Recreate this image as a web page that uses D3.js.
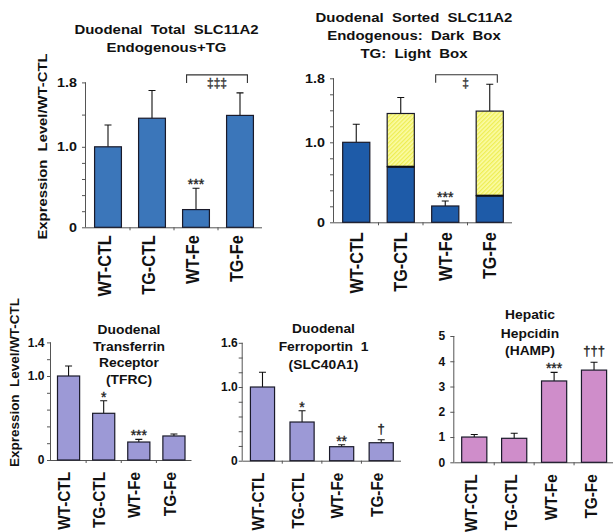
<!DOCTYPE html>
<html><head><meta charset="utf-8">
<script src="https://cdn.jsdelivr.net/npm/d3@7/dist/d3.min.js"></script>
<style>
body{margin:0;background:#fff;}
svg{display:block;}
text{font-family:"Liberation Sans", Arial, Helvetica, sans-serif; white-space:pre;}
text.sym{font-family:"Liberation Sans", "DejaVu Sans", sans-serif;}
</style>
</head><body>
<svg id="chart" width="613" height="532"></svg>
<script>
// ---------------- DATA ----------------
const categories = ["WT-CTL", "TG-CTL", "WT-Fe", "TG-Fe"];

// Duodenal total SLC11A2 (endogenous + TG)
const totalSlc11a2Mean = [1.0, 1.355, 0.22, 1.39];
const totalSlc11a2Err  = [0.27, 0.345, 0.265, 0.28];
const totalSlc11a2Marks = ["", "", "***", ""];

// Duodenal sorted SLC11A2: endogenous (dark) + TG (light)
const sortedEndoMean = [1.0, 0.695, 0.204, 0.333];
const sortedTgMean   = [0, 0.665, 0, 1.057];
const sortedErr      = [0.225, 0.2, 0.062, 0.335];
const sortedMarks    = ["", "", "***", ""];

// Duodenal transferrin receptor (TFRC)
const tfrcMean  = [1.0, 0.556, 0.214, 0.286];
const tfrcErr   = [0.119, 0.15, 0.032, 0.024];
const tfrcMarks = ["", "*", "***", ""];

// Duodenal ferroportin 1 (SLC40A1)
const fpnMean  = [1.0, 0.525, 0.19, 0.244];
const fpnErr   = [0.2, 0.153, 0.027, 0.041];
const fpnMarks = ["", "*", "**", "\u2020"];

// Hepatic hepcidin (HAMP)
const hampMean  = [1.0, 0.95, 3.22, 3.65];
const hampErr   = [0.1, 0.2, 0.34, 0.31];
const hampMarks = ["", "", "***", "\u2020\u2020\u2020"];

// axis ticks
const ticksTotal   = [0, 0.2, 0.4, 0.6, 0.8, 1.0, 1.4, 1.8];
const labelsTotal  = [0, 1.0, 1.8];
const ticksSorted  = [0, 0.2, 0.4, 0.6, 0.8, 1.0, 1.2, 1.4, 1.6, 1.8];
const labelsSorted = [0, 1.0, 1.8];
const ticksTfrc    = [0, 0.2, 0.4, 0.6, 0.8, 1.0, 1.2, 1.4];
const labelsTfrc   = [0, 1.0, 1.4];
const ticksFpn     = [0, 0.2, 0.4, 0.6, 0.8, 1.0, 1.2, 1.4, 1.6];
const labelsFpn    = [0, 1.0, 1.6];
const ticksHamp    = [0, 1, 2, 3, 4, 5];
const labelsHamp   = [0, 1, 2, 3, 4, 5];

// ---------------- DRAW ----------------
const svg = d3.select("#chart");
const defs = svg.append("defs");
const pat = defs.append("pattern").attr("id", "hatch")
  .attr("patternUnits", "userSpaceOnUse").attr("width", 3).attr("height", 3)
  .attr("patternTransform", "rotate(45)");
pat.append("rect").attr("width", 3).attr("height", 3).attr("fill", "#fbfba6");
pat.append("rect").attr("width", 1.3).attr("height", 3).attr("fill", "#eeee55");

function stretch(sel, f) {
  sel.each(function () {
    const L = this.getComputedTextLength();
    this.setAttribute("textLength", L * f);
    this.setAttribute("lengthAdjust", "spacingAndGlyphs");
  });
}
function fmt(v) { return v === 0 ? "0" : (Number.isInteger(v) && v !== 1 ? String(v) : v.toFixed(1)); }

function panel(cfg) {
  const g = svg.append("g");
  const x = d3.scaleBand().domain(categories).range(cfg.xRange).paddingInner(cfg.pad).paddingOuter(cfg.pad / 2);
  const y = d3.scaleLinear().domain([0, cfg.yMax]).range(cfg.yRange);
  const y0 = y(0);
  const bw = x.bandwidth();

  // y axis
  const yAxis = d3.axisLeft(y).tickValues(cfg.ticks).tickSize(4).tickFormat("");
  const ya = g.append("g").attr("transform", `translate(${cfg.xRange[0]},0)`).call(yAxis);
  ya.select(".domain").attr("stroke", "#555").attr("d", `M-0.5,${y0}V${y(cfg.yMax)}`);
  ya.selectAll(".tick line").attr("stroke", "#555");
  // y labels
  g.selectAll(".ylab").data(cfg.labels).join("text")
    .attr("x", cfg.xRange[0] - cfg.labGap).attr("y", d => y(d)).attr("dy", "0.36em")
    .attr("text-anchor", "end").attr("font-weight", "bold").attr("font-size", cfg.tickFont)
    .attr("fill", "#111").text(d => cfg.labelFmt ? cfg.labelFmt(d) : fmt(d))
    .call(stretch, cfg.tickStretch);

  // x axis line
  g.append("line").attr("x1", cfg.xRange[0]).attr("x2", cfg.xRange[1])
    .attr("y1", y0 + 0.5).attr("y2", y0 + 0.5).attr("stroke", "#555");
  g.selectAll(".xt").data(categories.slice(1)).join("line")
    .attr("x1", d => x(d) - x.step() * cfg.pad / 2).attr("x2", d => x(d) - x.step() * cfg.pad / 2)
    .attr("y1", y0).attr("y2", y0 + 3).attr("stroke", "#555");

  // bars
  const bars = categories.map((c, i) => ({ c, i, v: cfg.mean[i], top: cfg.mean[i] + (cfg.stack ? cfg.stack[i] : 0), e: cfg.err[i] }));
  // error bars
  g.selectAll(".err").data(bars).join("path")
    .attr("d", d => {
      const cx = x(d.c) + bw / 2;
      return `M${cx},${y(d.top)}V${y(d.top + d.e)}M${cx - 3.5},${y(d.top + d.e)}H${cx + 3.5}`;
    })
    .attr("stroke", "#111").attr("stroke-width", 1.1).attr("fill", "none");
  g.selectAll(".bar").data(bars).join("rect")
    .attr("x", d => x(d.c)).attr("width", bw)
    .attr("y", d => y(d.v)).attr("height", d => y0 - y(d.v))
    .attr("fill", cfg.fill).attr("stroke", "#1a1a2a").attr("stroke-width", 1.2);
  if (cfg.stack) {
    g.selectAll(".stk").data(bars.filter(d => cfg.stack[d.i] > 0)).join("rect")
      .attr("x", d => x(d.c)).attr("width", bw)
      .attr("y", d => y(d.top)).attr("height", d => y(d.v) - y(d.top))
      .attr("fill", "url(#hatch)").attr("stroke", "#1a1a2a").attr("stroke-width", 1.2);
    g.selectAll(".sep").data(bars.filter(d => cfg.stack[d.i] > 0)).join("line")
      .attr("x1", d => x(d.c)).attr("x2", d => x(d.c) + bw)
      .attr("y1", d => y(d.v)).attr("y2", d => y(d.v)).attr("stroke", "#111").attr("stroke-width", 2);
  }
  // significance marks
  const isDag = s => s.includes("\u2020");
  g.selectAll(".mk").data(bars.filter(d => cfg.marks[d.i])).join("text")
    .attr("class", d => isDag(cfg.marks[d.i]) ? "sym" : null)
    .attr("x", d => x(d.c) + bw / 2).attr("y", d => y(d.top + d.e) - (isDag(cfg.marks[d.i]) ? 7 : -1))
    .attr("text-anchor", "middle").attr("font-size", d => isDag(cfg.marks[d.i]) ? 13 : 14)
    .attr("fill", "#222").attr("stroke", "#222").attr("stroke-width", 0.35)
    .text(d => cfg.marks[d.i]);

  // bracket
  if (cfg.bracket) {
    const b = cfg.bracket;
    const x1 = x(categories[b.from]) + 4, x2 = x(categories[b.to]) + bw - 6;
    const yt = y(cfg.yMax) - b.up;
    g.append("path").attr("d", `M${x1},${yt + 8}V${yt}H${x2}V${yt + 8}`)
      .attr("stroke", "#333").attr("fill", "none").attr("stroke-width", 1.1);
    g.append("text").attr("class", "sym")
      .attr("x", (x1 + x2) / 2 + b.dx).attr("y", yt + 12.5)
      .attr("text-anchor", "middle").attr("font-size", 12)
      .attr("fill", "#333").attr("stroke", "#333").attr("stroke-width", 0.35).text(b.label);
  }

  // category labels
  g.selectAll(".cat").data(categories).join("text")
    .attr("transform", d => `translate(${x(d) + bw / 2 + cfg.catShift},${y0 + cfg.catGap}) rotate(-90)`)
    .attr("dy", "0.36em").attr("text-anchor", "end").attr("font-weight", "bold")
    .attr("font-size", cfg.catFont).attr("fill", "#111").text(d => d)
    .call(stretch, 0.9);

  // title
  g.selectAll(".ttl").data(cfg.title).join("text")
    .attr("x", cfg.titleX).attr("y", (d, i) => cfg.titleY[i])
    .attr("text-anchor", "middle").attr("font-weight", "bold").attr("font-size", cfg.titleFont)
    .attr("fill", "#111").text(d => d)
    .call(stretch, 1.15);
}

panel({
  xRange: [86, 262], yRange: [227.3, 82.4], yMax: 1.8, pad: 0.39,
  ticks: ticksTotal, labels: labelsTotal, labGap: 9, tickFont: 13, tickStretch: 1.1,
  mean: totalSlc11a2Mean, err: totalSlc11a2Err, marks: totalSlc11a2Marks, fill: "#3b76ba",
  bracket: { from: 2, to: 3, label: "\u2021\u2021\u2021", up: 7.5, dx: 0 },
  catShift: -3, catGap: 8, catFont: 18,
  title: ["Duodenal  Total  SLC11A2", "Endogenous+TG"], titleX: 166.5, titleY: [34.3, 51.7], titleFont: 13
});
panel({
  xRange: [334, 512], yRange: [222.3, 78.3], yMax: 1.8, pad: 0.39,
  ticks: ticksSorted, labels: labelsSorted, labGap: 9, tickFont: 13, tickStretch: 1.1,
  mean: sortedEndoMean, stack: sortedTgMean, err: sortedErr, marks: sortedMarks, fill: "#1e5ba8",
  bracket: { from: 2, to: 3, label: "\u2021", up: 3.5, dx: -1 },
  catShift: 0, catGap: 10, catFont: 18,
  title: ["Duodenal  Sorted  SLC11A2", "Endogenous:  Dark  Box", "TG:  Light  Box"], titleX: 414, titleY: [22.3, 40, 58.3], titleFont: 13
});
panel({
  xRange: [51, 191.5], yRange: [460, 342.4], yMax: 1.4, pad: 0.37,
  ticks: ticksTfrc, labels: labelsTfrc, labGap: 6.5, tickFont: 12, tickStretch: 1.0,
  mean: tfrcMean, err: tfrcErr, marks: tfrcMarks, fill: "#9c99d6",
  catShift: -4.5, catGap: 12, catFont: 17,
  title: ["Duodenal", "Transferrin", "Receptor", "(TFRC)"], titleX: 129, titleY: [334, 350.5, 367, 384], titleFont: 12
});
panel({
  xRange: [242.7, 401], yRange: [460.7, 342.8], yMax: 1.6, pad: 0.39,
  ticks: ticksFpn, labels: labelsFpn, labGap: 5, tickFont: 12, tickStretch: 1.0,
  mean: fpnMean, err: fpnErr, marks: fpnMarks, fill: "#9c99d6",
  catShift: -4.5, catGap: 12, catFont: 17,
  title: ["Duodenal", "Ferroportin  1", "(SLC40A1)"], titleX: 323.5, titleY: [333.3, 351, 369.3], titleFont: 12
});
panel({
  xRange: [454.3, 614], yRange: [462.3, 336], yMax: 5, pad: 0.37,
  ticks: ticksHamp, labels: labelsHamp, labGap: 9, tickFont: 12, tickStretch: 1.0,
  labelFmt: d => String(d),
  mean: hampMean, err: hampErr, marks: hampMarks, fill: "#cf8dca",
  catShift: -3.5, catGap: 12, catFont: 17,
  title: ["Hepatic", "Hepcidin", "(HAMP)"], titleX: 530, titleY: [319, 337.5, 355], titleFont: 12
});

// y-axis titles
svg.append("text").attr("transform", "translate(42,146.5) rotate(-90)").attr("dy", "0.36em")
  .attr("text-anchor", "middle").attr("font-weight", "bold").attr("font-size", 13).attr("fill", "#111")
  .text("Expression  Level/WT-CTL").call(stretch, 1.14);
svg.append("text").attr("transform", "translate(15,382.5) rotate(-90)").attr("dy", "0.36em")
  .attr("text-anchor", "middle").attr("font-weight", "bold").attr("font-size", 12).attr("fill", "#111")
  .text("Expression  Level/WT-CTL").call(stretch, 1.12);
</script>
</body></html>
